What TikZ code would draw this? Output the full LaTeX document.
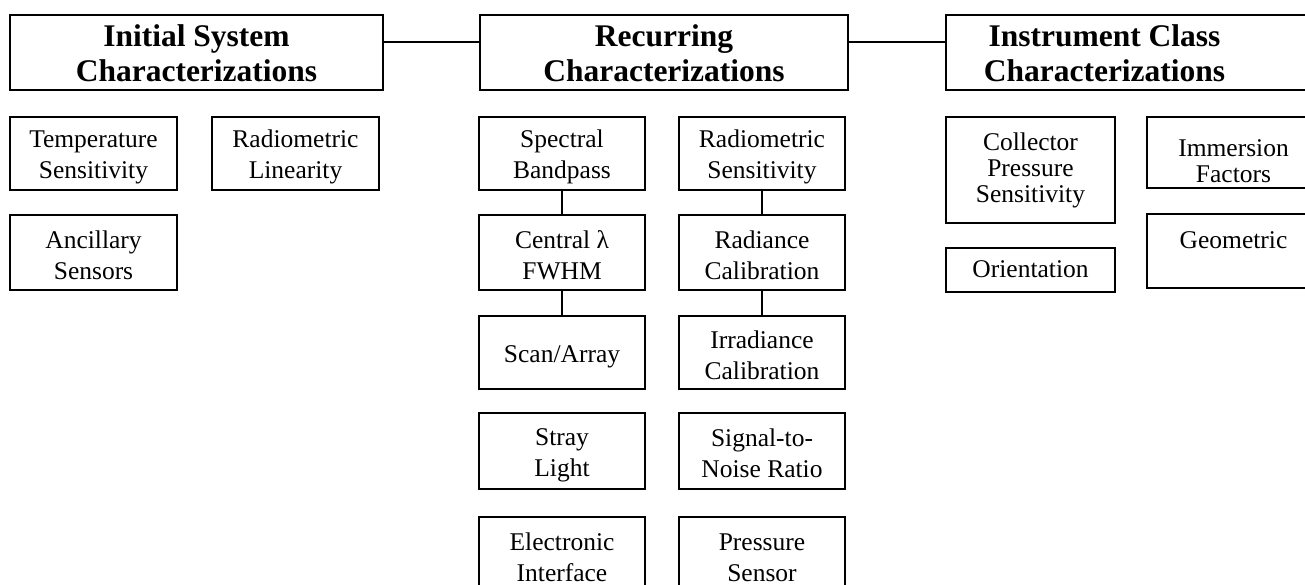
\documentclass[tikz,border=0pt]{standalone}
\usepackage{fontspec}
\setmainfont{Liberation Serif}
\newcommand{\sa}{\rule[-3pt]{0pt}{28pt}}
\newcommand{\sh}{\rule[-3pt]{0pt}{29pt}}
\begin{document}
\begin{tikzpicture}[x=1pt,y=-1pt,
  head/.style={draw, line width=2.8pt, inner sep=0pt, outer sep=0pt, align=center,
    font=\bfseries\fontsize{31.5}{35}\selectfont},
  headtext/.style={inner sep=0pt, align=center, font=\bfseries\fontsize{31.5}{35}\selectfont},
  box/.style={draw, line width=1.7pt, inner sep=0pt, outer sep=0pt, align=center,
    font=\fontsize{25.5}{31}\selectfont},
  tight/.style={font=\fontsize{25.5}{26}\selectfont},
  link/.style={line width=1.8pt}]
\useasboundingbox (0,0) rectangle (1305,585);
\clip (0,0) rectangle (1305,585);
% headers
\node[head, minimum width=373pt, minimum height=75pt] (init) at (196.5,52.5) {Initial System\sh\\Characterizations\sh};
\node[head, minimum width=368pt, minimum height=75pt] (rec) at (664,52.5) {Recurring\sh\\Characterizations\sh};
\node[head, minimum width=384pt, minimum height=75pt] (inst) at (1138,52.5) {};
\node[headtext] (insttext) at (1104.5,52.5) {Instrument Class\sh\\Characterizations\sh};
\draw[link] ([yshift=10.5pt]init.east) -- ([yshift=10.5pt]rec.west);
\draw[link] ([yshift=10.5pt]rec.east) -- ([yshift=10.5pt]inst.west);
% initial column
\node[box, minimum width=167pt, minimum height=73pt] (temp) at (93.5,153.5) {Temperature\sa\\Sensitivity\sa};
\node[box, minimum width=167pt, minimum height=73pt] (radlin) at (295.5,153.5) {Radiometric\sa\\Linearity\sa};
\node[box, minimum width=167pt, minimum height=75pt] (anc) at (93.5,252.5) {Ancillary\sa\\Sensors\sa};
% recurring left column
\node[box, minimum width=166pt, minimum height=73pt] (spec) at (562,153.5) {Spectral\sa\\Bandpass\sa};
\node[box, minimum width=166pt, minimum height=75pt] (central) at (562,252.5) {Central λ\sa\\FWHM\sa};
\node[box, minimum width=166pt, minimum height=73pt] (scan) at (562,352.5) {Scan/Array\sa};
\node[box, minimum width=166pt, minimum height=76pt] (stray) at (562,451) {Stray\sa\\Light\sa};
\node[box, minimum width=166pt, minimum height=75pt] (elec) at (562,554.5) {Electronic\sa\\Interface\sa};
% recurring right column
\node[box, minimum width=166pt, minimum height=73pt] (radsens) at (762,153.5) {Radiometric\sa\\Sensitivity\sa};
\node[box, minimum width=166pt, minimum height=75pt] (radcal) at (762,252.5) {Radiance\sa\\Calibration\sa};
\node[box, minimum width=166pt, minimum height=73pt] (irr) at (762,352.5) {Irradiance\sa\\Calibration\sa};
\node[box, minimum width=166pt, minimum height=76pt] (snr) at (762,451) {Signal-to-\sa\\Noise Ratio\sa};
\node[box, minimum width=166pt, minimum height=75pt] (press) at (762,554.5) {Pressure\sa\\Sensor\sa};
\draw[link] (spec.south) -- (central.north);
\draw[link] (central.south) -- (scan.north);
\draw[link] (radsens.south) -- (radcal.north);
\draw[link] (radcal.south) -- (irr.north);
% instrument class
\node[box, tight, minimum width=169pt, minimum height=106pt] (coll) at (1030.5,170) {Collector\\Pressure\\Sensitivity};
\node[box, minimum width=169pt, minimum height=44pt] (orient) at (1030.5,270) {Orientation\rule[-3pt]{0pt}{20pt}};
\node[box, tight, minimum width=173pt, minimum height=71pt] (imm) at (1233.5,152.5) {Immersion\rule{0pt}{34pt}\\Factors};
\node[box, minimum width=173pt, minimum height=74pt] (geo) at (1233.5,251) {Geometric\rule[-22pt]{0pt}{39pt}};
\end{tikzpicture}
\end{document}
